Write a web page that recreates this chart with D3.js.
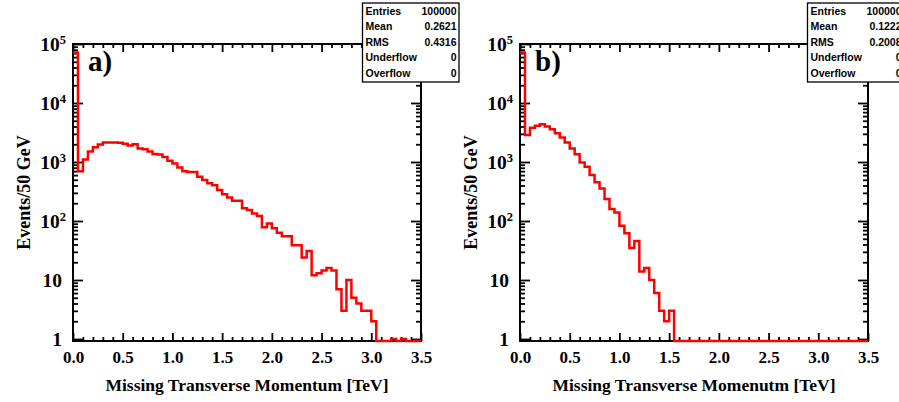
<!DOCTYPE html>
<html><head><meta charset="utf-8">
<script src="https://cdn.jsdelivr.net/npm/d3@7"></script>
<style>body{margin:0;background:#fff}svg{display:block}</style>
</head><body><svg id="c" width="899" height="402"></svg>
<script>
// ---- data ----
const binWidth = 0.05; // TeV (50 GeV)
const xTickValues = [0, 0.5, 1.0, 1.5, 2.0, 2.5, 3.0, 3.5];
const xTickLabels = ["0.0", "0.5", "1.0", "1.5", "2.0", "2.5", "3.0", "3.5"];
const yDecades = [1, 10, 100, 1000, 10000, 100000];
const yDecadeExponents = ["", "", "2", "3", "4", "5"];
const yDecadeBases = ["1", "10", "10", "10", "10", "10"];

const countsA = [72000, 700, 1100, 1500, 1770, 1980, 2150, 2150, 2150, 2120,
  2040, 1910, 1990, 1700, 1650, 1500, 1370, 1340, 1210, 1050,
  940, 810, 700, 680, 680, 560, 495, 435, 405, 335,
  283, 250, 221, 221, 165, 153, 134, 122, 78, 91,
  75, 63, 55, 55, 39, 39, 24, 31, 12, 13,
  14.5, 16, 14.5, 7, 3, 10, 5, 4, 3, 3,
  2, 0, 0, 0, 1, 0, 1, 0, 0, 0];
const countsB = [72000, 2870, 3820, 4130, 4360, 3980, 3590, 3070, 2590, 2150,
  1700, 1350, 985, 832, 602, 452, 357, 236, 160, 140,
  83, 62, 35, 46, 14, 16, 10, 6, 3, 2,
  3, 0, 0, 0, 0, 0, 0, 0, 0, 0,
  0, 0, 0, 0, 0, 0, 0, 0, 0, 0,
  0, 0, 0, 0, 0, 0, 0, 0, 0, 0,
  0, 0, 0, 0, 0, 0, 0, 0, 0, 0];

const statsNames = ["Entries", "Mean", "RMS", "Underflow", "Overflow"];
const statsA = ["100000", "0.2621", "0.4316", "0", "0"];
const statsB = ["100000", "0.1222", "0.2008", "0", "0"];
const panelLabels = ["a)", "b)"];
const xTitles = ["Missing Transverse Momentum [TeV]", "Missing Transverse Momenutm [TeV]"];
const yTitle = "Events/50 GeV";

// ---- drawing ----
const svg = d3.select("#c");
svg.append("rect").attr("width", 899).attr("height", 402).attr("fill", "#fff");
const SERIF = "'Liberation Serif','Times New Roman',Times,serif";
const SANS = "'Liberation Sans',Arial,Helvetica,sans-serif";

function drawPanel(counts, stats, label, xTitle, L, boxX) {
  const W = 348, T = 44, B = 341, R = L + W;
  const YMIN = 0.925;
  const g = svg.append("g");
  const x = d3.scaleLinear().domain([0, 3.5]).range([L, R]);
  const y = d3.scaleLog().domain([YMIN, 1e5]).range([B, T]).clamp(true);

  const xMinor = d3.range(1, 35).map(i => i / 10).filter(v => Math.abs(v * 2 - Math.round(v * 2)) > 1e-6);
  const yMinor = [];
  [1, 10, 100, 1000, 10000].forEach(d => { for (let m = 2; m <= 9; m++) yMinor.push(d * m); });

  const styleTicks = sel => {
    sel.select(".domain").remove();
    sel.selectAll(".tick line").attr("stroke", "#000").attr("stroke-width", 1.8);
  };

  // frame
  g.append("rect").attr("x", L).attr("y", T).attr("width", W).attr("height", B - T)
    .attr("fill", "none").attr("stroke", "#000").attr("stroke-width", 2);

  // bottom axis
  const bottom = g.append("g").attr("transform", `translate(0,${B})`)
    .call(d3.axisBottom(x).tickValues(xTickValues).tickFormat((d, i) => xTickLabels[i])
      .tickSizeInner(-8).tickSizeOuter(0).tickPadding(10));
  bottom.call(styleTicks);
  bottom.selectAll("text").attr("font-family", SERIF).attr("font-weight", "bold")
    .attr("font-size", 17).attr("fill", "#000");
  g.append("g").attr("transform", `translate(0,${B})`)
    .call(d3.axisBottom(x).tickValues(xMinor).tickFormat("").tickSizeInner(-4).tickSizeOuter(0))
    .call(styleTicks);
  // top axis
  g.append("g").attr("transform", `translate(0,${T})`)
    .call(d3.axisTop(x).tickValues(xTickValues).tickFormat("").tickSizeInner(-8).tickSizeOuter(0))
    .call(styleTicks);
  g.append("g").attr("transform", `translate(0,${T})`)
    .call(d3.axisTop(x).tickValues(xMinor).tickFormat("").tickSizeInner(-4).tickSizeOuter(0))
    .call(styleTicks);

  // left axis
  const left = g.append("g").attr("transform", `translate(${L},0)`)
    .call(d3.axisLeft(y).tickValues(yDecades).tickFormat((d, i) => yDecadeBases[i])
      .tickSizeInner(-10).tickSizeOuter(0).tickPadding(11));
  left.call(styleTicks);
  left.selectAll("text").each(function (d, i) {
    const t = d3.select(this);
    t.attr("font-family", SERIF).attr("font-weight", "bold").attr("font-size", 19.5).attr("fill", "#000");
    if (yDecadeExponents[i]) {
      t.text(null).attr("x", -7);
      t.append("tspan").text(yDecadeBases[i]);
      t.append("tspan").text(yDecadeExponents[i]).attr("font-size", 12.5).attr("dy", "-0.55em");
    }
  });
  g.append("g").attr("transform", `translate(${L},0)`)
    .call(d3.axisLeft(y).tickValues(yMinor).tickFormat("").tickSizeInner(-5).tickSizeOuter(0))
    .call(styleTicks);
  // right axis
  g.append("g").attr("transform", `translate(${R},0)`)
    .call(d3.axisRight(y).tickValues(yDecades).tickFormat("").tickSizeInner(-10).tickSizeOuter(0))
    .call(styleTicks);
  g.append("g").attr("transform", `translate(${R},0)`)
    .call(d3.axisRight(y).tickValues(yMinor).tickFormat("").tickSizeInner(-5).tickSizeOuter(0))
    .call(styleTicks);

  // histogram
  const pts = counts.map((v, i) => [i * binWidth, v]);
  pts.push([counts.length * binWidth, counts[counts.length - 1]]);
  const line = d3.line().curve(d3.curveStepAfter)
    .x(d => x(d[0])).y(d => y(Math.max(d[1], YMIN)));
  g.append("path").datum(pts).attr("d", line).attr("fill", "none")
    .attr("stroke", "#ff0000").attr("stroke-width", 2.5).attr("stroke-linejoin", "miter");

  // panel label
  g.append("text").attr("x", L + 15).attr("y", 71).text(label)
    .attr("font-family", SERIF).attr("font-weight", "bold").attr("font-size", 29).attr("fill", "#000");

  // axis titles
  g.append("text").attr("x", (L + R) / 2).attr("y", 391).attr("text-anchor", "middle").text(xTitle)
    .attr("font-family", SERIF).attr("font-weight", "bold").attr("font-size", 17.5).attr("fill", "#000");
  g.append("text").attr("transform", `translate(${L - 43},${(T + B) / 2}) rotate(-90)`)
    .attr("text-anchor", "middle").text(yTitle)
    .attr("font-family", SERIF).attr("font-weight", "bold").attr("font-size", 18).attr("fill", "#000");

  // stats box
  const box = g.append("g");
  box.append("rect").attr("x", boxX).attr("y", 3).attr("width", 96.5).attr("height", 79)
    .attr("fill", "#fff").attr("stroke", "#000").attr("stroke-width", 1.3);
  statsNames.forEach((n, i) => {
    const yy = 15 + 15.4 * i;
    box.append("text").attr("x", boxX + 3).attr("y", yy).text(n)
      .attr("font-family", SANS).attr("font-weight", "bold").attr("font-size", 10.5).attr("fill", "#000");
    box.append("text").attr("x", boxX + 94).attr("y", yy).attr("text-anchor", "end").text(stats[i])
      .attr("font-family", SANS).attr("font-weight", "bold").attr("font-size", 10.5).attr("fill", "#000");
  });
}

drawPanel(countsA, statsA, panelLabels[0], xTitles[0], 73, 362.5);
drawPanel(countsB, statsB, panelLabels[1], xTitles[1], 520, 807.5);
</script>
</body></html>
